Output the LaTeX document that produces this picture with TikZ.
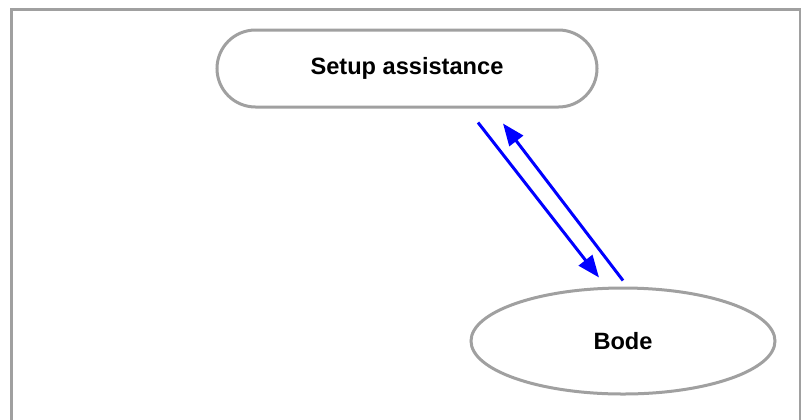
\documentclass[tikz,border=0pt]{standalone}
\usepackage{fontspec}
\setmainfont{Liberation Sans}
\usetikzlibrary{arrows.meta,calc,shapes.geometric,shapes.misc}
\definecolor{framegray}{RGB}{160,160,160}
\definecolor{arrblue}{RGB}{0,0,255}
\tikzset{
  boxline/.style={draw=framegray, line width=3bp},
  lbl/.style={font=\fontsize{23.6bp}{28bp}\selectfont\bfseries, text=black, inner sep=0pt},
  flow/.style={draw=arrblue, line width=3bp, -{Triangle[length=22bp,width=17bp]}},
}
\begin{document}
\begin{tikzpicture}[x=1bp,y=-1bp]
\useasboundingbox (0,0) rectangle (801,419);
\fill[white] (0,0) rectangle (801,419);
% frame
\draw[boxline] (11.5,420) -- (11.5,9.5) -- (800,9.5) -- (800,420);
% nodes
\node[boxline, lbl, rounded rectangle, minimum width=380bp, minimum height=77bp] (setup) at (407,68.5) {Setup assistance};
\node[boxline, lbl, ellipse, minimum width=304bp, minimum height=106bp] (bode) at (623,341) {Bode};
% connectors
\draw[flow] ($(setup.south)+(71,14)$) -- ($(bode.north)+(-24,-9)$);
\draw[flow] ($(bode.north)+(0,-6)$) -- ($(setup.south)+(96,15)$);
\end{tikzpicture}
\end{document}
